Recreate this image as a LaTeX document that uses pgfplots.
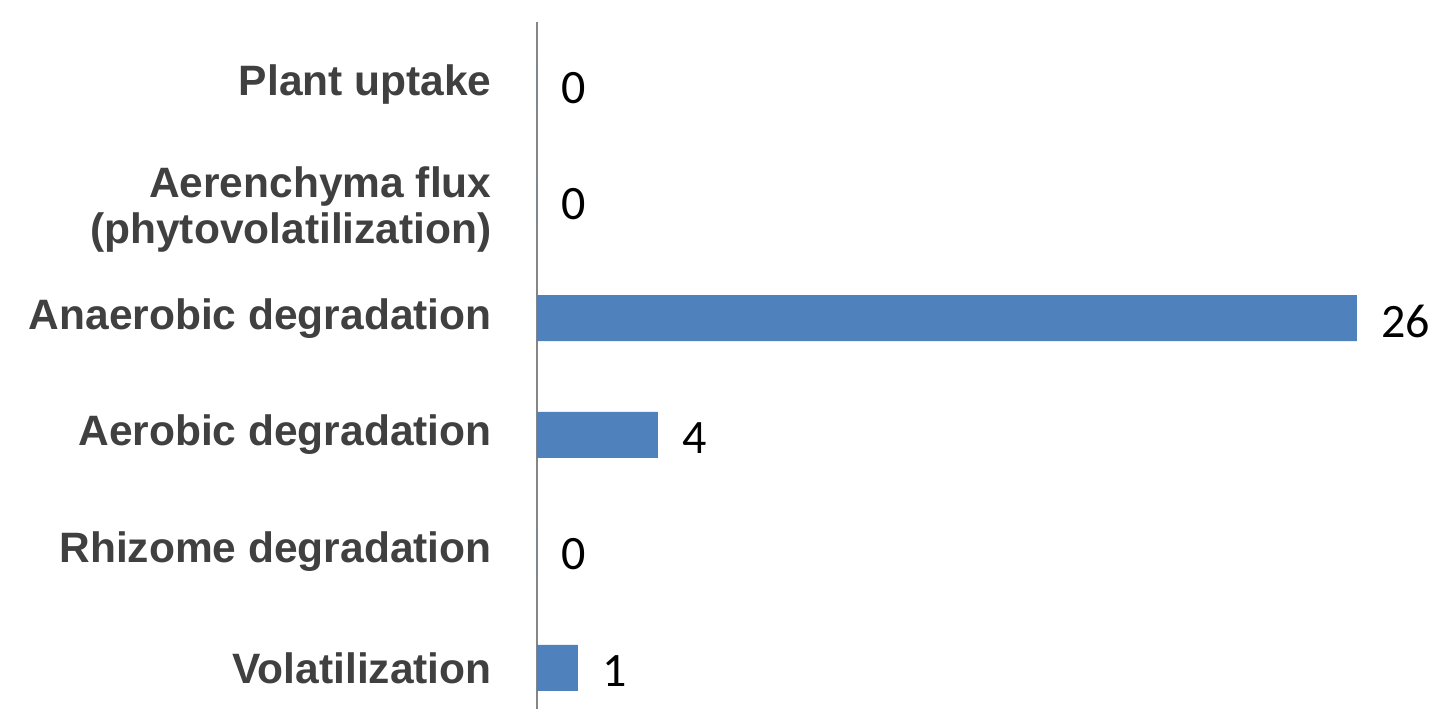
\documentclass[border=0pt]{standalone}
\usepackage{fontspec}
\setmainfont{Liberation Sans}
\newfontfamily\valfont{Carlito}
\usepackage{pgfplots}
\pgfplotsset{compat=1.18}
\usepackage{pgfplotstable}
\definecolor{barblue}{RGB}{79,129,189}
\definecolor{axgray}{RGB}{134,134,134}
\definecolor{labgray}{RGB}{64,64,64}
\pgfplotstableread{
y x label
1 1.30 1
2 0 0
3 3.83 4
4 26 26
5 0 0
6 0 0
}\datatable
\begin{document}
\begin{tikzpicture}
\begin{axis}[
  scale only axis,
  width=410bp, height=343.5bp,
  xmin=0, xmax=26,
  ymin=0.648, ymax=6.54,
  axis x line=none,
  axis y line*=left,
  y axis line style={draw=axgray, line width=1bp},
  major tick length=0pt,
  ytick={1,2,3,4,6},
  yticklabels={Volatilization, Rhizome degradation, Aerobic degradation, Anaerobic degradation, Plant uptake},
  yticklabel style={align=right, inner sep=0pt, xshift=-22.5bp, text=labgray, font=\fontsize{21.25bp}{23bp}\selectfont\bfseries},
  extra y ticks={5},
  extra y tick labels={{Aerenchyma flux\\(phytovolatilization)}},
  extra y tick style={major tick length=0pt, yticklabel style={yshift=-4bp}},
  clip=false,
]
\addplot[xbar, bar width=23bp, fill=barblue, draw=none,
  nodes near coords, point meta=explicit symbolic,
  nodes near coords style={anchor=west, inner sep=0pt, xshift=12bp, yshift=-1.5bp, text=black, font=\valfont\fontsize{24bp}{28bp}\selectfont}]
  table[x=x, y=y, meta=label] {\datatable};
\coordinate (SW) at (rel axis cs:0,0);
\end{axis}
\pgfresetboundingbox
\path[use as bounding box] (SW) ++(-268.5bp,0) rectangle ++(718bp,354.5bp);
\end{tikzpicture}
\end{document}
